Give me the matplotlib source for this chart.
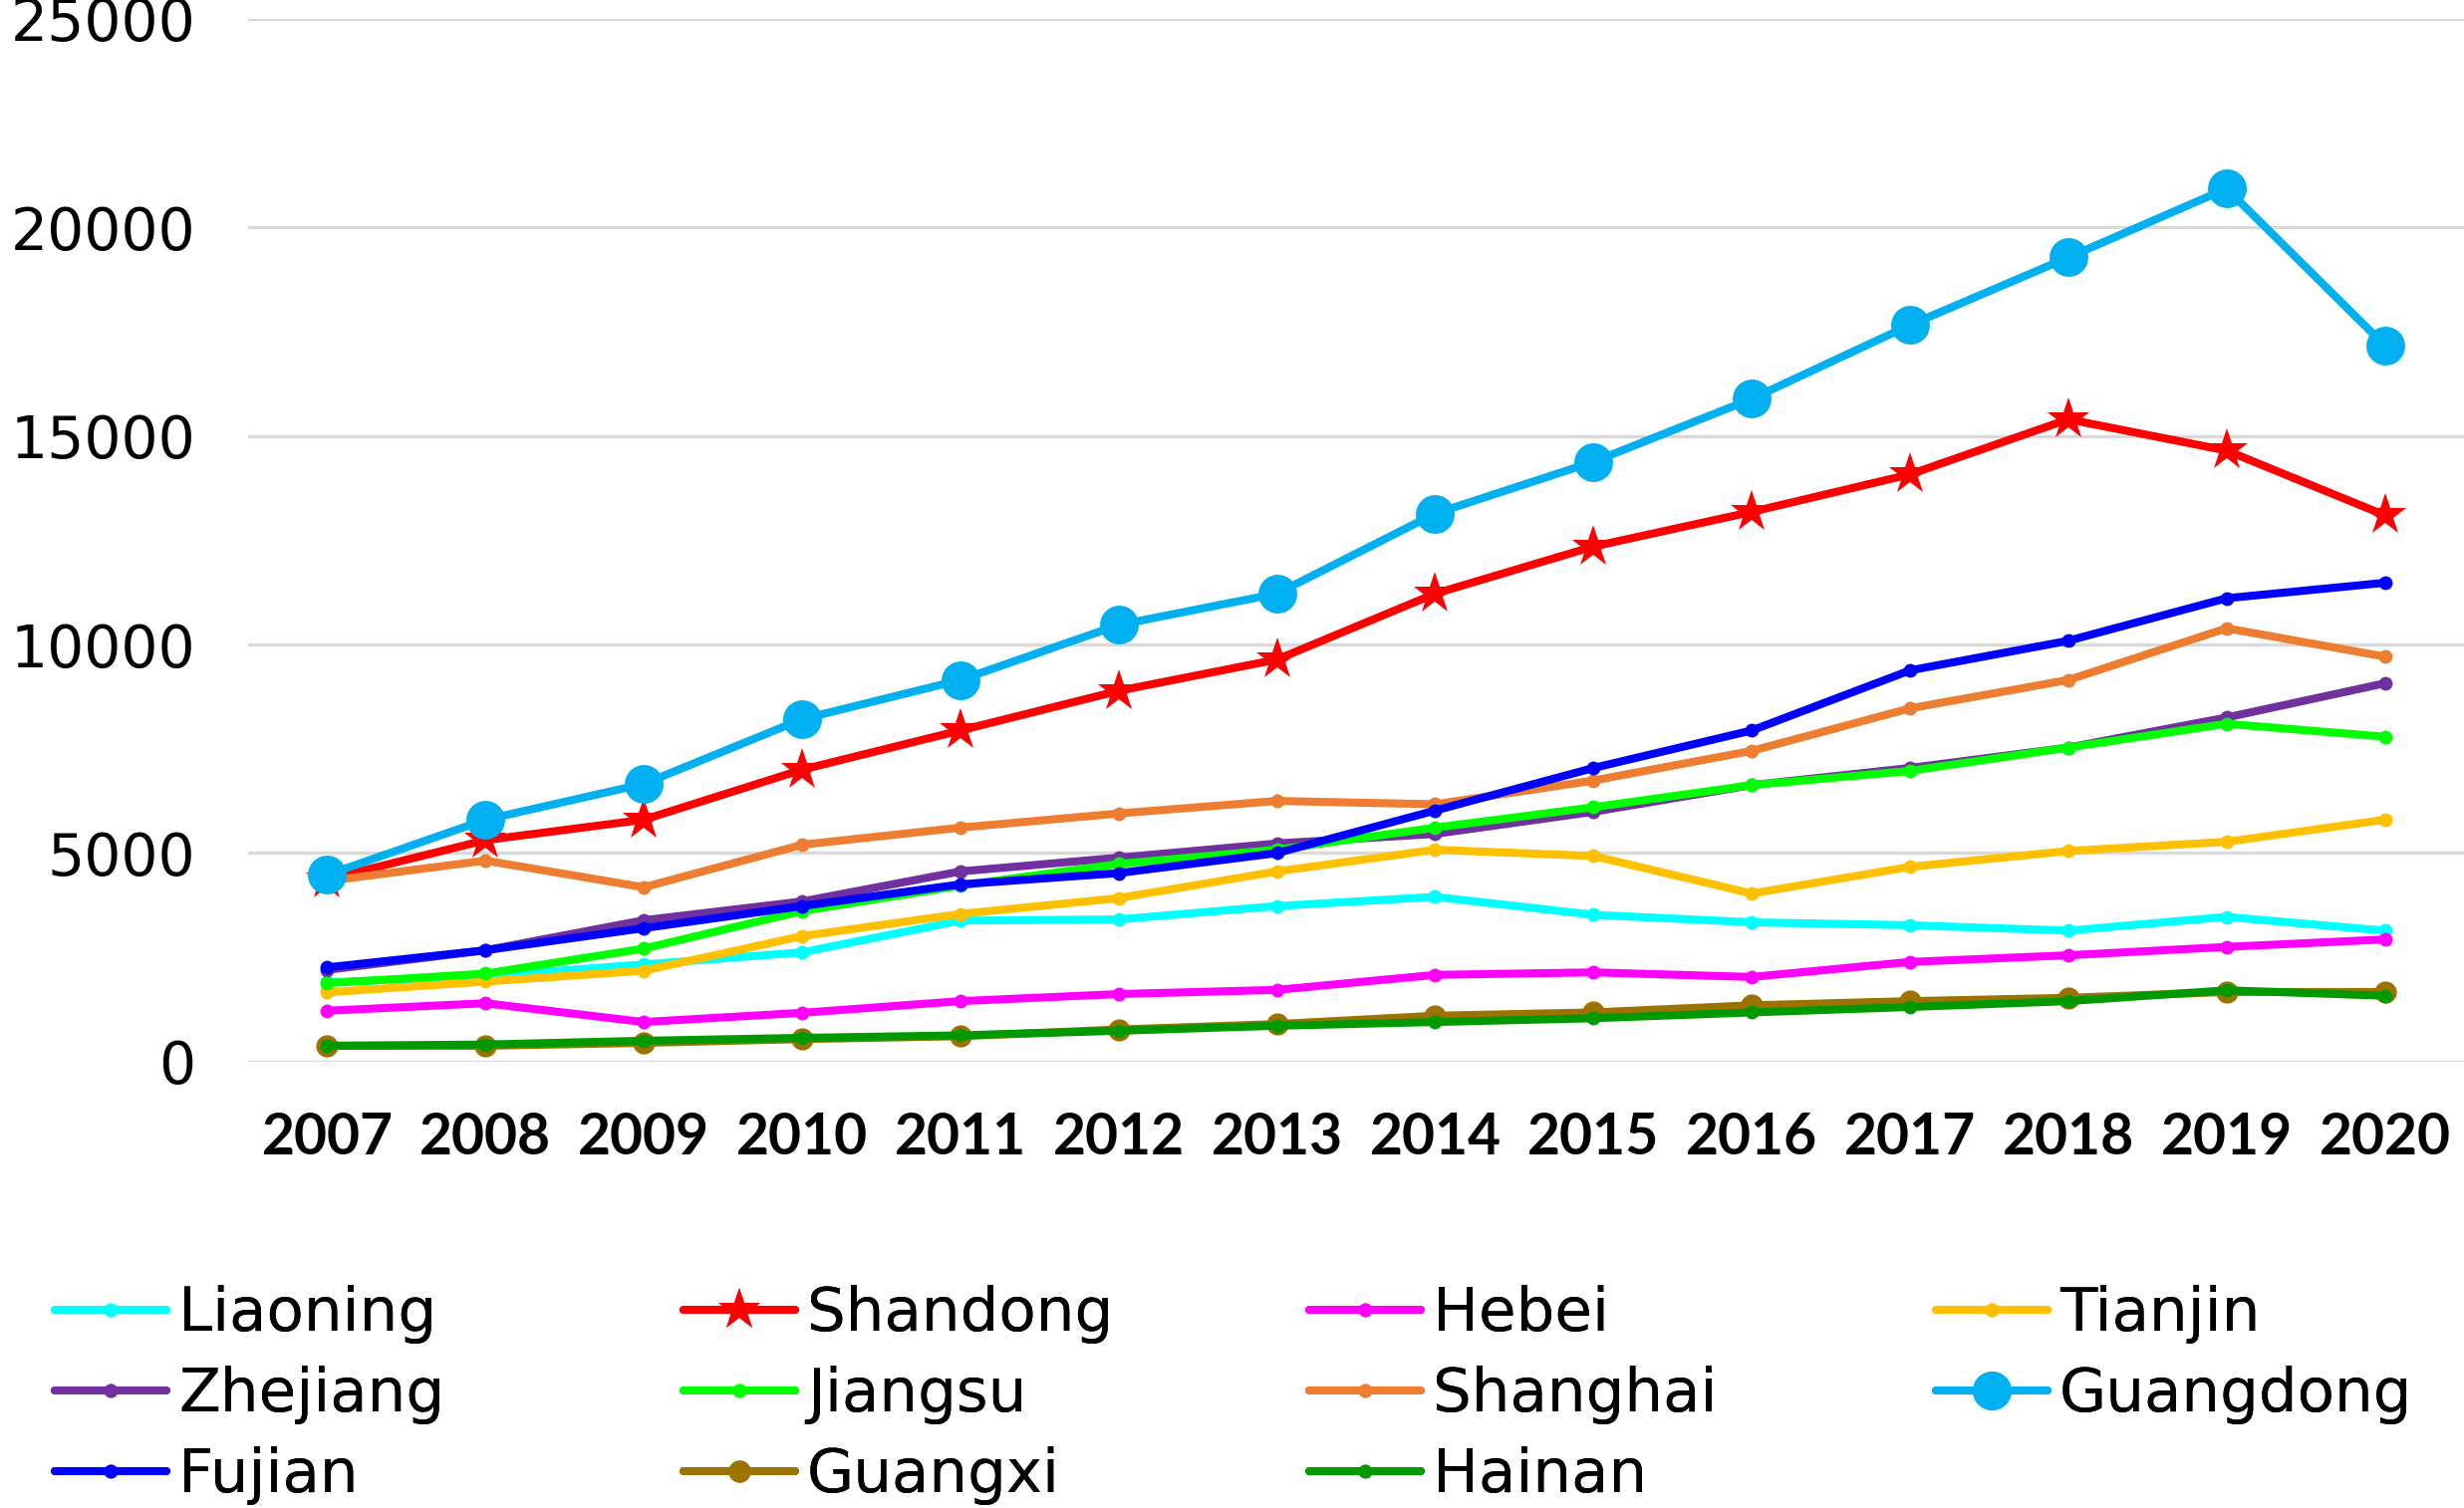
import numpy as np
import matplotlib
matplotlib.use("Agg")
import matplotlib.pyplot as plt

years = [str(y) for y in range(2007, 2021)]

liaoning  = [1900, 2050, 2330, 2620, 3380, 3410, 3730, 3950, 3520, 3340, 3270, 3140, 3470, 3140]
shandong  = [4370, 5310, 5800, 7000, 7940, 8890, 9640, 11220, 12350, 13180, 14080, 15400, 14650, 13100]
hebei     = [1220, 1400, 950, 1170, 1450, 1620, 1720, 2080, 2140, 2030, 2390, 2550, 2750, 2930]
tianjin   = [1660, 1920, 2180, 3010, 3540, 3920, 4560, 5080, 4930, 4030, 4670, 5050, 5270, 5800]
zhejiang  = [2200, 2670, 3390, 3840, 4560, 4890, 5230, 5460, 5990, 6630, 7040, 7530, 8250, 9070]
jiangsu   = [1880, 2110, 2710, 3610, 4220, 4740, 5080, 5610, 6100, 6630, 6970, 7530, 8100, 7790]
shanghai  = [4330, 4820, 4180, 5200, 5610, 5950, 6250, 6170, 6740, 7450, 8470, 9150, 10390, 9710]
guangdong = [4480, 5800, 6660, 8210, 9150, 10470, 11220, 13140, 14380, 15890, 17660, 19280, 20930, 17170]
fujian    = [2260, 2670, 3200, 3730, 4250, 4520, 5000, 6020, 7040, 7940, 9380, 10090, 11110, 11480]
guangxi   = [380, 380, 450, 540, 610, 770, 900, 1100, 1180, 1350, 1450, 1530, 1670, 1670]
hainan    = [380, 410, 500, 570, 630, 740, 860, 950, 1040, 1180, 1310, 1450, 1710, 1580]

names = ["Liaoning", "Shandong", "Hebei", "Tianjin", "Zhejiang", "Jiangsu",
         "Shanghai", "Guangdong", "Fujian", "Guangxi", "Hainan"]
series = [liaoning, shandong, hebei, tianjin, zhejiang, jiangsu,
          shanghai, guangdong, fujian, guangxi, hainan]
colors = ["#00FFFF", "#FF0000", "#FF00FF", "#FFC000", "#7030A0", "#00FF00",
          "#ED7D31", "#00B0F0", "#0000FF", "#9C7300", "#009A00"]
markers = ["o", "*", "o", "o", "o", "o", "o", "o", "o", "o", "o"]
msizes = [5, 16, 5, 5, 5, 5, 5, 14, 5, 8, 5]

fig = plt.figure(figsize=(2473 / 200, 1514 / 200), dpi=200)
ax = fig.add_axes([0.1007, 0.296, 0.8993, 0.6915])

x = np.arange(len(years))
lines = {}
for name, vals, c, m, ms in zip(names, series, colors, markers, msizes):
    ln, = ax.plot(x, vals, color=c, lw=2.9, marker=m, markersize=ms,
                  markeredgewidth=0, solid_capstyle="round", label=name)
    lines[name] = ln

ax.set_xlim(-0.5, len(years) - 0.5)
ax.set_ylim(0, 25000)
ax.set_yticks(range(0, 25001, 5000))
ax.set_xticks(x)
ax.set_xticklabels(years, fontfamily="Lato", fontweight="bold", fontsize=20.5)
for lab in ax.get_yticklabels():
    lab.set_fontfamily("DejaVu Sans")
    lab.set_fontsize(21)
ax.tick_params(axis="both", length=0)
ax.tick_params(axis="y", pad=19)
ax.tick_params(axis="x", pad=18)
ax.grid(axis="y", color="#D9D9D9", lw=1.2)
ax.set_axisbelow(True)
for s in ax.spines.values():
    s.set_visible(False)

# legend laid out row by row, four columns of equal width
cols = [["Liaoning", "Zhejiang", "Fujian"],
        ["Shandong", "Jiangsu", "Guangxi"],
        ["Hebei", "Shanghai", "Hainan"],
        ["Tianjin", "Guangdong"]]
col_x = [0.0222, 0.2774, 0.5313, 0.7857]
for cx, names_col in zip(col_x, cols):
    leg = fig.legend([lines[n] for n in names_col], names_col,
                     loc="upper left", bbox_to_anchor=(cx, 0.148),
                     frameon=False, borderpad=0, borderaxespad=0,
                     handlelength=1.83, handletextpad=0.2, labelspacing=0.36,
                     prop={"family": "DejaVu Sans", "size": 22})
    fig.add_artist(leg)

fig.savefig("out.png", dpi=200, facecolor="white")
